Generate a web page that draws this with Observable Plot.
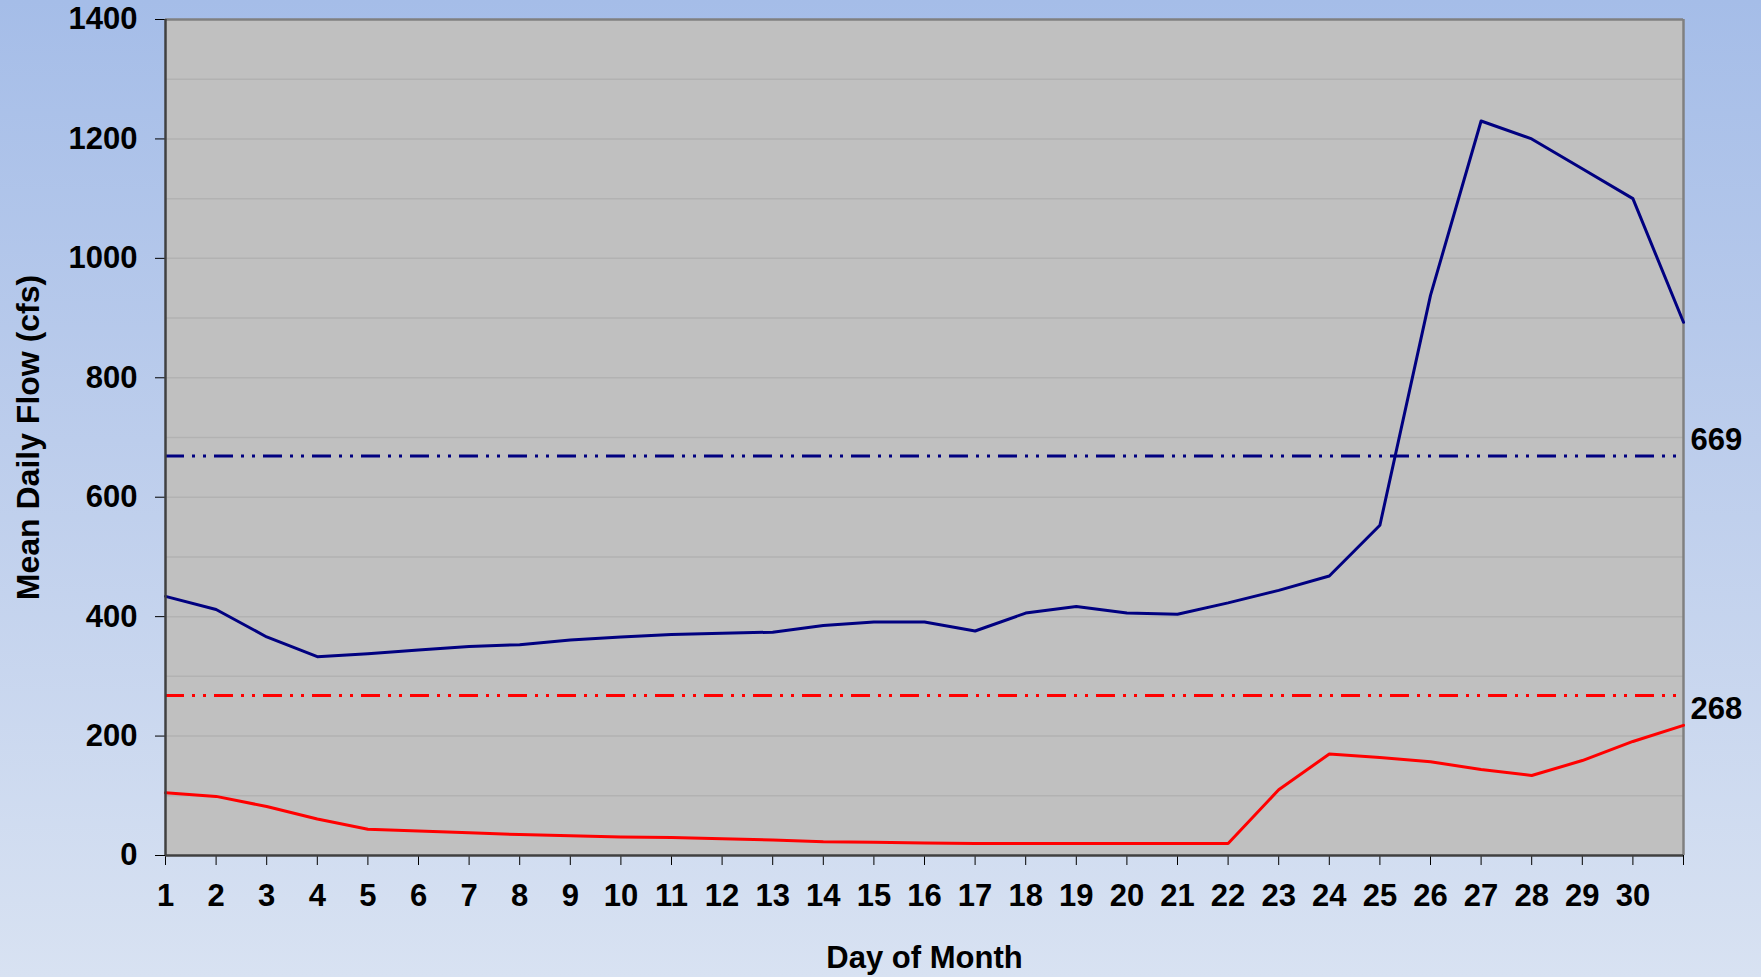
<!DOCTYPE html>
<html>
<head>
<meta charset="utf-8">
<script src="https://cdn.jsdelivr.net/npm/d3@7"></script>
<script src="https://cdn.jsdelivr.net/npm/@observablehq/plot@0.6"></script>
<style>
  html, body { margin: 0; padding: 0; }
  body {
    width: 1761px; height: 977px; overflow: hidden;
    background: linear-gradient(to bottom, #A5BDE8 0%, #BCCDEC 45%, #D8E2F2 100%);
  }
  #chart svg { display: block; }
</style>
</head>
<body>
<div id="chart"></div>
<script>
// ---- data ----
const days = [1,2,3,4,5,6,7,8,9,10,11,12,13,14,15,16,17,18,19,20,21,22,23,24,25,26,27,28,29,30,31];
const xTickLabels = ["1","2","3","4","5","6","7","8","9","10","11","12","13","14","15","16","17","18","19","20","21","22","23","24","25","26","27","28","29","30",""];
const blueFlow = [434,412,366,333,338,344,350,353,361,366,370,372,374,385,391,391,376,406,417,406,404,423,444,468,553,938,1230,1200,1150,1100,893];
const redFlow  = [105,99,82,61,44,41,38,35,33,31,30,28,26,23,22,21,20,20,20,20,20,20,110,170,164,157,144,134,159,191,218];
const blueMean = 669;
const redMean = 268;
const blueMeanLabel = "669";
const redMeanLabel = "268";
const yTicks = [0,200,400,600,800,1000,1200,1400];
const gridValues = [100,200,300,400,500,600,700,800,900,1000,1100,1200,1300];
const yTitle = "Mean Daily Flow (cfs)";
const xTitle = "Day of Month";

// ---- build ----
const blueRows = days.map((d, i) => ({day: d, flow: blueFlow[i]}));
const redRows = days.map((d, i) => ({day: d, flow: redFlow[i]}));
const labelOf = new Map(days.map((d, i) => [d, xTickLabels[i]]));
const dash = "19,8,3,8,3,8";

const chart = Plot.plot({
  width: 1761,
  height: 977,
  marginLeft: 165,
  marginRight: 78,
  marginTop: 19,
  marginBottom: 122,
  style: {
    background: "transparent",
    fontFamily: "'Liberation Sans', Arial, sans-serif",
    fontSize: "30px",
    fontWeight: "bold",
    color: "black",
    overflow: "visible"
  },
  x: {domain: [1, 31], axis: null},
  y: {domain: [0, 1400], axis: null},
  marks: [
    Plot.frame({fill: "#C0C0C0", stroke: null}),
    Plot.ruleY(gridValues, {stroke: "#B2B2B2", strokeWidth: 1.5}),
    Plot.ruleY([1400], {stroke: "#808080", strokeWidth: 2.5}),
    Plot.ruleX([31], {stroke: "#808080", strokeWidth: 2.5}),
    Plot.ruleY([blueMean], {stroke: "#000080", strokeWidth: 3, strokeDasharray: dash, strokeLinecap: "butt"}),
    Plot.ruleY([redMean], {stroke: "#FF0000", strokeWidth: 3, strokeDasharray: dash, strokeLinecap: "butt"}),
    Plot.line(blueRows, {x: "day", y: "flow", stroke: "#000080", strokeWidth: 3}),
    Plot.line(redRows, {x: "day", y: "flow", stroke: "#FF0000", strokeWidth: 3}),
    Plot.axisY({ticks: yTicks, tickSize: 10, tickPadding: 18, label: null, tickFormat: d => String(d), stroke: "#000", fontSize: 31}),
    Plot.axisX({ticks: days, tickSize: 10, tickPadding: 18, label: null, tickFormat: d => labelOf.get(d), stroke: "#000", fontSize: 31}),
    Plot.ruleX([1], {stroke: "#404040", strokeWidth: 2.5}),
    Plot.ruleY([0], {stroke: "#404040", strokeWidth: 2.5}),
    Plot.text([blueMeanLabel], {x: 31, y: blueMean, dx: 7, dy: -16, textAnchor: "start", lineAnchor: "middle", fill: "black", fontSize: 31}),
    Plot.text([redMeanLabel], {x: 31, y: redMean, dx: 7, dy: 14, textAnchor: "start", lineAnchor: "middle", fill: "black", fontSize: 31}),
    Plot.text([yTitle], {frameAnchor: "left", dx: -137, rotate: -90, textAnchor: "middle", lineAnchor: "middle", fill: "black", fontSize: 32}),
    Plot.text([xTitle], {frameAnchor: "bottom", dy: 103, textAnchor: "middle", lineAnchor: "middle", fill: "black", fontSize: 31})
  ]
});
document.getElementById("chart").appendChild(chart);
</script>
</body>
</html>
